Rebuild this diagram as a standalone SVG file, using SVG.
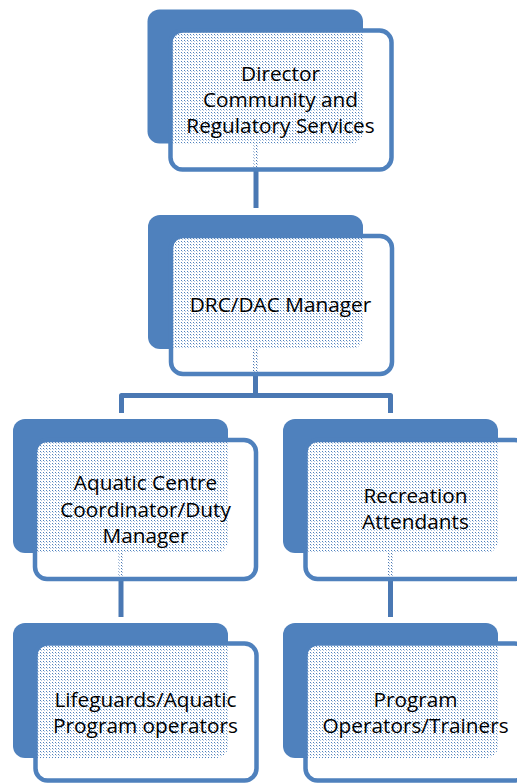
<svg xmlns="http://www.w3.org/2000/svg" width="517" height="783" viewBox="0 0 517 783">
  <style>
    .back { fill: #4f81bd; }
    .front { fill: url(#dither); stroke: #4f81bd; stroke-width: 4.5; }
    .wire { fill: none; stroke: #4a78b3; stroke-width: 5; stroke-linejoin: round; }
    .label { font-family: "Open Sans", Lato, sans-serif; font-size: 20.8px; fill: #000; text-anchor: middle; }
  </style>
  <defs>
    <!-- white fill with a sparse grid of see-through pixels -->
    <pattern id="dither" x="0" y="0" width="3" height="3" patternUnits="userSpaceOnUse">
      <path d="M0 0h3v3h-3z M1 1v1h1v-1z M2 2v1h1v-1z" fill="#fff" fill-rule="evenodd" shape-rendering="crispEdges"/>
      <rect x="2" y="2" width="1" height="1" fill="#fff" fill-opacity="0.55" shape-rendering="crispEdges"/>
    </pattern>
  </defs>

  <rect width="517" height="783" fill="#fff"/>

  <g id="connectors">
    <path class="wire" d="M256 143 V208"/>
    <path class="wire" d="M255.5 348 V395.5"/>
    <path class="wire" d="M121.5 413 V395.5 H390.5 V413"/>
    <path class="wire" d="M121 553 V617"/>
    <path class="wire" d="M390.5 553 V617"/>
  </g>

  <g id="director">
    <rect class="back" x="147.5" y="9.5" width="215.5" height="134" rx="12"/>
    <rect class="front" x="170.5" y="30.5" width="221" height="139" rx="12"/>
    <text class="label" x="280.5" y="81">Director</text>
    <text class="label" x="280.5" y="107">Community and</text>
    <text class="label" x="280.5" y="133">Regulatory Services</text>
  </g>

  <g id="manager">
    <rect class="back" x="148" y="215" width="215" height="134" rx="12"/>
    <rect class="front" x="171" y="236" width="221" height="138" rx="12"/>
    <text class="label" x="280.5" y="312">DRC/DAC Manager</text>
  </g>

  <g id="coordinator">
    <rect class="back" x="13" y="419" width="215" height="134" rx="12"/>
    <rect class="front" x="35" y="440" width="221" height="139" rx="12"/>
    <text class="label" x="145.5" y="490">Aquatic Centre</text>
    <text class="label" x="145.5" y="517">Coordinator/Duty</text>
    <text class="label" x="145.5" y="543">Manager</text>
  </g>

  <g id="recreation">
    <rect class="back" x="283" y="419" width="215" height="134" rx="12"/>
    <rect class="front" x="305.5" y="440" width="221" height="139" rx="12"/>
    <text class="label" x="415.5" y="503">Recreation</text>
    <text class="label" x="415.5" y="529">Attendants</text>
  </g>

  <g id="lifeguards">
    <rect class="back" x="13" y="623" width="215" height="135" rx="12"/>
    <rect class="front" x="35.5" y="643.5" width="221" height="137" rx="12"/>
    <text class="label" x="145.5" y="707">Lifeguards/Aquatic</text>
    <text class="label" x="145.5" y="733">Program operators</text>
  </g>

  <g id="trainers">
    <rect class="back" x="283" y="623" width="215" height="135" rx="12"/>
    <rect class="front" x="305.5" y="643.5" width="221" height="137" rx="12"/>
    <text class="label" x="415.5" y="707">Program</text>
    <text class="label" x="415.5" y="733">Operators/Trainers</text>
  </g>
</svg>
